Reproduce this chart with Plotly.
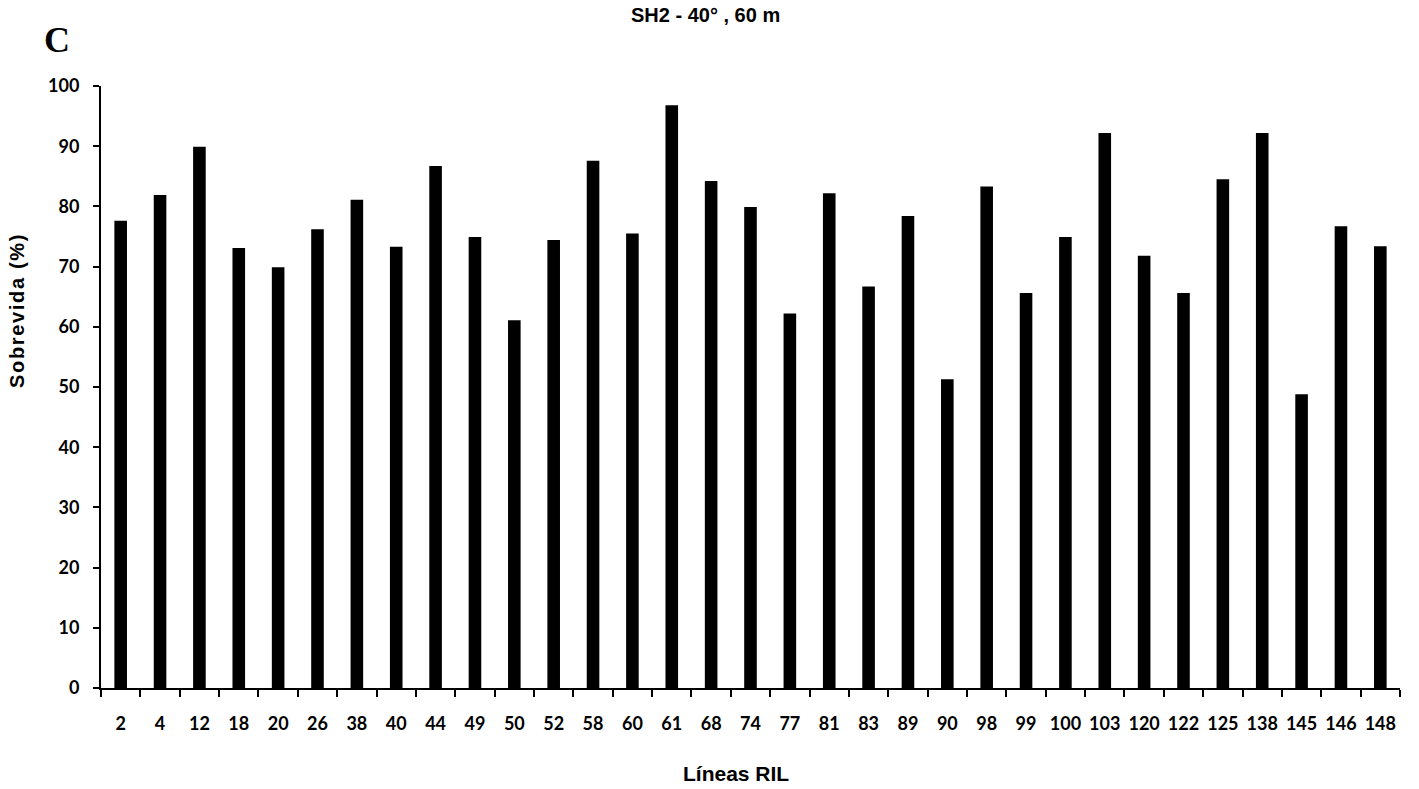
import plotly.graph_objects as go

lines = ["2", "4", "12", "18", "20", "26", "38", "40", "44", "49", "50", "52", "58", "60", "61",
         "68", "74", "77", "81", "83", "89", "90", "98", "99", "100", "103", "120", "122", "125",
         "138", "145", "146", "148"]
survival = [77.6, 81.9, 89.9, 73.1, 69.9, 76.2, 81.1, 73.3, 86.7, 74.9, 61.1, 74.4, 87.6, 75.5, 96.8,
            84.2, 79.9, 62.2, 82.2, 66.7, 78.4, 51.3, 83.3, 65.6, 74.9, 92.2, 71.8, 65.6, 84.5,
            92.2, 48.8, 76.7, 73.4]
y_ticks = [0, 10, 20, 30, 40, 50, 60, 70, 80, 90, 100]

W, H = 1419, 789
L, R, T, B = 101, 19, 86, 101
PW, PH = W - L - R, H - T - B


def px(x):
    return (x - L) / PW


def py(y):
    return (H - y - B) / PH


tick_font = dict(family="Lato, Open Sans, sans-serif", size=18, color="black", weight="bold")
narrow = "Liberation Sans Narrow, Arial Narrow, Liberation Sans, Arial"
ytitle = "\u200a".join("Sobrevida (%)")

fig = go.Figure(go.Bar(x=lines, y=survival, marker=dict(color="black", line=dict(width=0)),
                       showlegend=False))

fig.update_layout(
    width=W, height=H,
    margin=dict(l=L, r=R, t=T, b=B),
    plot_bgcolor="white", paper_bgcolor="white",
    bargap=0.68,
    xaxis=dict(type="category", showline=True, linecolor="black", linewidth=2,
               ticks="outside", ticklen=7, tickwidth=2, tickcolor="black",
               tickson="boundaries", tickfont=tick_font, ticklabelstandoff=18,
               tickangle=0, showgrid=False, zeroline=False),
    yaxis=dict(range=[0, 100], tickvals=y_ticks, showline=True, linecolor="black", linewidth=2,
               ticks="outside", ticklen=6, tickwidth=2, tickcolor="black",
               tickfont=tick_font, ticklabelstandoff=10,
               showgrid=False, zeroline=False),
    annotations=[
        dict(text="SH2 - 40° , 60 m", x=px(705), y=py(15), xref="paper", yref="paper",
             showarrow=False, xanchor="center", yanchor="middle",
             font=dict(family=narrow, size=20, color="black", weight="bold")),
        dict(text="C", x=px(57), y=py(40), xref="paper", yref="paper",
             showarrow=False, xanchor="center", yanchor="middle",
             font=dict(family="Liberation Serif, Times New Roman, serif", size=36,
                       color="black", weight="bold")),
        dict(text="Líneas RIL", x=px(736), y=py(773), xref="paper", yref="paper",
             showarrow=False, xanchor="center", yanchor="middle",
             font=dict(family=narrow, size=21, color="black", weight="bold")),
        dict(text=ytitle, x=px(17), y=py(312), xref="paper", yref="paper",
             showarrow=False, textangle=-90, xanchor="center", yanchor="middle",
             font=dict(family="Liberation Sans, Arial, sans-serif", size=20,
                       color="black", weight="bold")),
    ],
)

fig.write_html("out.html")
